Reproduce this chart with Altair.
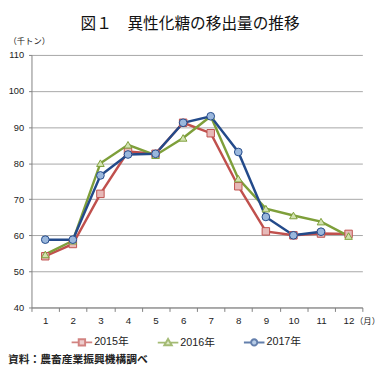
import altair as alt
import pandas as pd

months = ["1", "2", "3", "4", "5", "6", "7", "8", "9", "10", "11", "12"]
series_names = ["2015年", "2016年", "2017年"]
s2015 = [54.2, 57.6, 71.5, 83.2, 82.6, 91.2, 88.3, 73.6, 61.1, 60.0, 60.5, 60.4]
s2016 = [54.7, 58.5, 80.0, 85.1, 82.2, 87.0, 93.0, 75.7, 67.4, 65.5, 63.8, 59.8]
s2017 = [58.8, 58.8, 76.6, 82.4, 82.6, 91.2, 93.0, 83.1, 65.1, 60.0, 61.0, None]
y_ticks = [40, 50, 60, 70, 80, 90, 100, 110]

title_text = "図１　異性化糖の移出量の推移"
y_unit = "（千トン）"
x_unit = "（月）"
source_text = "資料：農畜産業振興機構調べ"

line_colors = ["#C0504D", "#7E9F3A", "#234A8A"]
fill_colors = ["#E6B9B8", "#D2E2B0", "#9AB7DC"]
shapes = ["square", "triangle-up", "circle"]
sizes = [58, 62, 52]

rows = []
for name, vals in zip(series_names, [s2015, s2016, s2017]):
    for m, v in zip(months, vals):
        if v is not None:
            rows.append({"month": m, "value": v, "series": name})
df = pd.DataFrame(rows)

num_font = "Liberation Sans, Arial, Noto Sans CJK JP"
jp_font = "Noto Sans CJK JP"

# legend symbols: line segment with the marker in the middle
sq = "M-1,0H-0.31M0.31,0H1M-0.31,-0.31H0.31V0.31H-0.31Z"
tri = "M-1,0H-0.21M0.21,0H1M0,-0.36L0.36,0.26H-0.36Z"
cir = "M-1,0H-0.3M0.3,0H1M-0.3,0A0.3,0.3,0,1,1,0.3,0A0.3,0.3,0,1,1,-0.3,0Z"
legend_shapes = [sq, tri, cir]

legend = alt.Legend(
    title=None,
    orient="none",
    legendX=40,
    legendY=282,
    direction="horizontal",
    padding=0,
    symbolSize=441,
    symbolStrokeWidth=2,
    symbolFillColor="#ffffff",
    labelOffset=1,
    columnPadding=25,
    labelFont=num_font,
    labelFontSize=11,
    labelColor="#222222",
)

x_enc = alt.X(
    "month:O",
    sort=months,
    scale=alt.Scale(type="band", domain=months, paddingInner=0, paddingOuter=0),
    axis=alt.Axis(
        title=x_unit,
        titleX=330,
        titleY=13,
        titleAlign="left",
        titleBaseline="middle",
        titleFont=jp_font,
        titleFontSize=8.5,
        titleFontWeight="normal",
        titleColor="#222222",
        labelAngle=0,
        labelFont=num_font,
        labelFontSize=10,
        labelColor="#222222",
        labelPadding=4,
        tickBand="extent",
        tickSize=4,
        tickColor="#808080",
        domainColor="#808080",
        grid=False,
    ),
)
y_enc = alt.Y(
    "value:Q",
    scale=alt.Scale(domain=[40, 110], nice=False, zero=False),
    axis=alt.Axis(
        values=y_ticks,
        title=y_unit,
        titleAngle=0,
        titleX=-24,
        titleY=-15,
        titleAlign="left",
        titleBaseline="middle",
        titleFont=jp_font,
        titleFontSize=8.5,
        titleFontWeight="normal",
        titleColor="#222222",
        labelFont=num_font,
        labelFontSize=9.5,
        labelColor="#222222",
        labelPadding=5,
        tickSize=3,
        tickColor="#808080",
        domainColor="#808080",
        gridColor="#A6A6A6",
        gridWidth=1,
    ),
)

color_scale = alt.Scale(domain=series_names, range=line_colors)
fill_scale = alt.Scale(domain=series_names, range=fill_colors)

lines = alt.Chart(df).mark_line(strokeWidth=2.5).encode(
    x=x_enc,
    y=y_enc,
    color=alt.Color("series:N", scale=color_scale, legend=None),
)

points = alt.Chart(df).mark_point(filled=False, strokeWidth=1, opacity=1).encode(
    x=x_enc,
    y=y_enc,
    color=alt.Color("series:N", scale=color_scale, legend=None),
    fill=alt.Fill("series:N", scale=fill_scale, legend=None),
    shape=alt.Shape("series:N", scale=alt.Scale(domain=series_names, range=shapes), legend=None),
    size=alt.Size("series:N", scale=alt.Scale(domain=series_names, range=sizes), legend=None),
)

# legend provider (no marks drawn: data filtered out, legend from explicit domains)
legend_layer = alt.Chart(df).transform_filter("false").mark_point(filled=False, strokeWidth=2).encode(
    x=x_enc,
    y=y_enc,
    color=alt.Color("series:N", scale=color_scale, legend=legend),
    fill=alt.Fill("series:N", scale=fill_scale, legend=legend),
    shape=alt.Shape("series:N", scale=alt.Scale(domain=series_names, range=legend_shapes), legend=legend),
)

src = alt.Chart(pd.DataFrame({"t": [source_text]})).mark_text(
    align="left", baseline="middle", font=jp_font, fontSize=11, fontWeight="bold", color="#222222"
).encode(x=alt.value(-24), y=alt.value(312), text="t:N")

chart = (
    alt.layer(lines, points, legend_layer, src)
    .resolve_scale(color="independent", fill="independent", shape="independent")
    .properties(
        width=338,
        height=258,
        autosize=alt.AutoSizeParams(type="none"),
        padding={"left": 24, "top": 44, "right": 17, "bottom": 64},
        title=alt.TitleParams(
            title_text,
            anchor="middle",
            frame="group",
            font=jp_font,
            fontSize=16,
            fontWeight="normal",
            color="#111111",
            offset=5,
            dx=-7,
        ),
    )
    .configure_view(stroke=None)
)

chart.save("out.html", embed_options={"renderer": "svg", "actions": False})
